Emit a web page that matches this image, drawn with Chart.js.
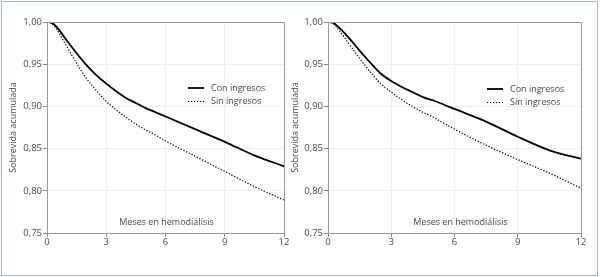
<!DOCTYPE html>
<html lang="es">
<head>
  <meta charset="UTF-8" />
  <title>Sobrevida acumulada</title>
  <script src="https://cdn.jsdelivr.net/npm/chart.js"></script>
  <style>
    body { margin: 0; background: #fff; }
    #frame { position: absolute; left: 1px; top: 1px; width: 595px; height: 273px; border: 1px solid #a7b9c9; }
    .box { position: absolute; top: 0; height: 277px; }
    #left { left: 0; width: 290px; }
    #right { left: 290px; width: 310px; }
  </style>
</head>
<body>

<div id="frame"></div>
<div class="box" id="left"><canvas id="chartA"></canvas></div>
<div class="box" id="right"><canvas id="chartB"></canvas></div>

<script>
  // meses y sobrevida
  const months   = [0, 0.25, 0.5, 1, 1.5, 2, 2.5, 3, 3.5, 4, 4.5, 5, 5.5, 6, 7.5, 9, 10.5, 12];
  const conLeft  = [1.000, 0.999, 0.994, 0.978, 0.963, 0.949, 0.937, 0.927, 0.918, 0.910, 0.904, 0.898, 0.893, 0.888, 0.873, 0.858, 0.842, 0.829];
  const sinLeft  = [1.000, 0.998, 0.991, 0.971, 0.951, 0.933, 0.919, 0.906, 0.896, 0.887, 0.879, 0.872, 0.866, 0.859, 0.841, 0.823, 0.805, 0.789];
  const conRight = [1.000, 0.999, 0.994, 0.981, 0.966, 0.952, 0.939, 0.930, 0.923, 0.917, 0.911, 0.907, 0.902, 0.897, 0.882, 0.864, 0.848, 0.838];
  const sinRight = [1.000, 0.998, 0.991, 0.974, 0.957, 0.941, 0.927, 0.917, 0.908, 0.900, 0.893, 0.887, 0.880, 0.873, 0.854, 0.837, 0.821, 0.803];
  const legendLabels = ['Con ingresos', 'Sin ingresos'];
  const xTitle = 'Meses en hemodiálisis';
  const yTitle = 'Sobrevida acumulada';

  const FONT = '"Open Sans", sans-serif';
  const TXT = '#4a4a4a';

  function pts(ys) {
    return months.map((m, i) => ({ x: m, y: ys[i] }));
  }

  // marco, leyenda y titulo del eje x dentro del area
  const extras = {
    id: 'extras',
    afterDraw(chart, args, o) {
      const { ctx, chartArea: a } = chart;
      ctx.save();
      ctx.strokeStyle = '#9a9a9a';
      ctx.lineWidth = 1;
      ctx.strokeRect(a.left + 0.5, a.top + 0.5, a.right - a.left, a.bottom - a.top);

      ctx.font = '9px ' + FONT;
      ctx.fillStyle = TXT;
      ctx.textBaseline = 'middle';
      ctx.fillText(xTitle, (a.left + a.right) / 2 + o.titleDx - ctx.measureText(xTitle).width / 2, a.bottom - 11);

      const lx = a.left + o.lx, ly = a.top + o.ly;
      chart.data.datasets.forEach((ds, i) => {
        const y = ly + i * 13.5;
        ctx.beginPath();
        ctx.strokeStyle = '#000';
        ctx.lineWidth = ds.borderWidth;
        ctx.setLineDash(ds.borderDash || []);
        ctx.moveTo(lx, y);
        ctx.lineTo(lx + 16, y);
        ctx.stroke();
        ctx.setLineDash([]);
        ctx.fillText(legendLabels[i], lx + 23, y);
      });
      ctx.restore();
    }
  };

  function makeChart(id, con, sin, padL, yw, padR, leg) {
    return new Chart(document.getElementById(id), {
      type: 'line',
      data: {
        datasets: [
          { data: pts(con), borderColor: '#000', borderWidth: 1.8, pointRadius: 0, cubicInterpolationMode: 'monotone' },
          { data: pts(sin), borderColor: '#000', borderWidth: 1.2, borderDash: [1.3, 1.7], pointRadius: 0, cubicInterpolationMode: 'monotone' }
        ]
      },
      options: {
        responsive: true,
        maintainAspectRatio: false,
        animation: false,
        layout: { padding: { top: 22, right: padR, left: padL, bottom: 0 } },
        plugins: { legend: { display: false }, tooltip: { enabled: false }, extras: leg },
        scales: {
          x: {
            type: 'linear', min: 0, max: 12,
            afterFit(s) { s.height = 44; },
            ticks: { stepSize: 3, color: TXT, font: { family: FONT, size: 9.5 }, padding: 0 },
            grid: { color: '#efefef', tickColor: '#888', tickLength: 4 },
            border: { color: '#9a9a9a' }
          },
          y: {
            min: 0.75, max: 1,
            afterFit(s) { s.width = yw; },
            ticks: { stepSize: 0.05, color: TXT, font: { family: FONT, size: 9.5 }, padding: 1,
                     callback: v => v.toFixed(2).replace('.', ',') },
            grid: { color: '#efefef', tickColor: '#888', tickLength: 4 },
            border: { color: '#9a9a9a' },
            title: { display: true, text: yTitle, color: TXT, font: { family: FONT, size: 9 }, padding: 0 }
          }
        }
      },
      plugins: [extras]
    });
  }

  makeChart('chartA', conLeft, sinLeft, 8, 39, 6, { lx: 141, ly: 66, titleDx: 1 });
  makeChart('chartB', conRight, sinRight, 0, 38, 19, { lx: 159, ly: 67, titleDx: 6 });
</script>

</body>
</html>
